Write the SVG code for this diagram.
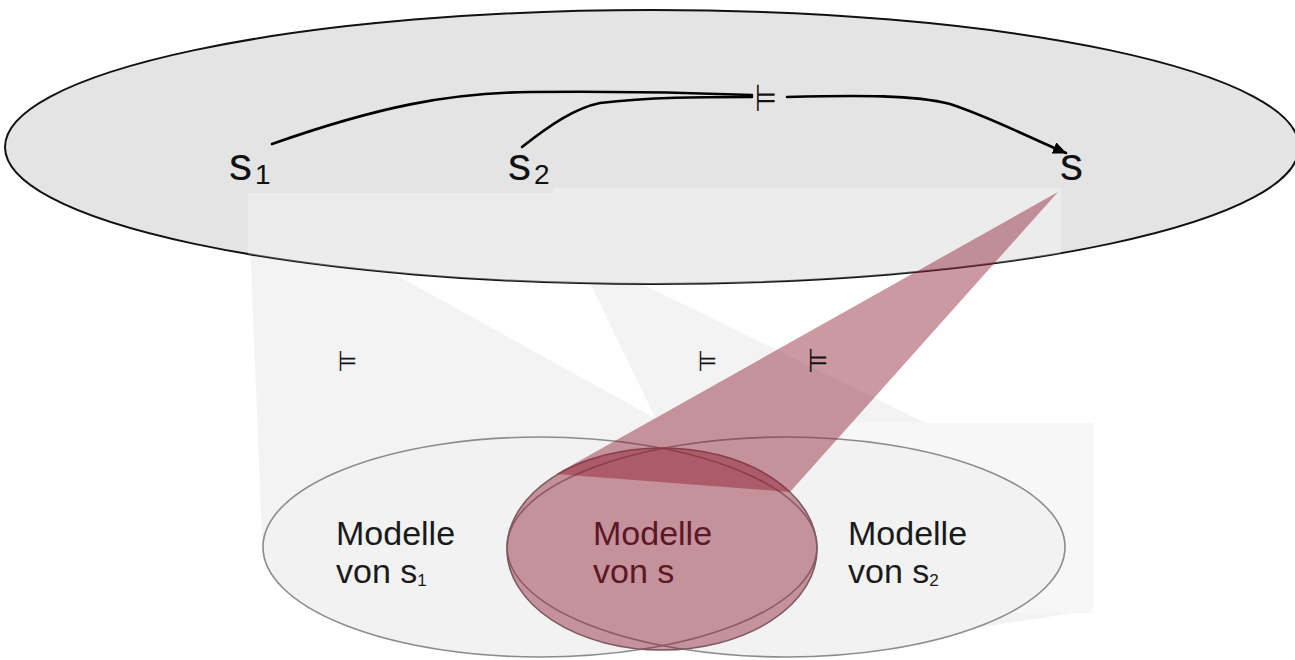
<svg xmlns="http://www.w3.org/2000/svg" width="1295" height="660" viewBox="0 0 1295 660">
<defs>
<style>
.var{font-family:"Liberation Sans",Arial,sans-serif;fill:#111}
.big{font-size:46px}
.sub{font-size:28px}
.ent{font-family:"DejaVu Sans",sans-serif;fill:#111}
.lab{font-family:"Liberation Sans",Arial,sans-serif;font-size:34px;fill:#1a1a1a}
.labr{fill:#5a1826}
.subs{font-size:17px}
.conn{fill:none;stroke:#000;stroke-width:2.6;stroke-linecap:round}
.wedge{fill:#f3f3f3}
.modelfill{fill:#f2f2f2}
.modelline{fill:none;stroke:#8c8c8c;stroke-width:1.6}
.red{fill:#8f1a2e;fill-opacity:0.45}
</style>
<marker id="arr" viewBox="0 0 14 12" markerWidth="14" markerHeight="12" refX="13" refY="6" orient="auto" markerUnits="userSpaceOnUse">
<path d="M0,0 L14,6 L0,12 z" fill="#000"/>
</marker>
<clipPath id="bigclip"><ellipse cx="652" cy="147" rx="647" ry="137"/></clipPath>
</defs>
<rect width="1295" height="660" fill="#fff"/>
<g id="projections">
<polygon class="wedge" points="248,193 660,421 720,470 540,560 263,560"/>
<polygon class="wedge" points="553,188 640,283 1063,490 1093,500 1093,610 786,657 690,520 653,413 590,283"/>
<rect x="843" y="423" width="250" height="190" fill="#f7f7f7"/>
</g>
<g id="universe">
<ellipse cx="652" cy="147" rx="647" ry="137" fill="#e4e4e4" stroke="#111" stroke-width="2"/>
<g clip-path="url(#bigclip)" fill="#fff" fill-opacity="0.3">
<rect x="248" y="193" width="305" height="110"/>
<rect x="553" y="188" width="508" height="110"/>
</g>
</g>
<g id="models-s1">
<ellipse class="modelfill" cx="540" cy="547" rx="277" ry="110"/>
</g>
<g id="models-s2">
<ellipse class="modelfill" cx="786" cy="547" rx="279" ry="110"/>
<ellipse class="modelline" cx="540" cy="547" rx="277" ry="110"/>
<ellipse class="modelline" cx="786" cy="547" rx="279" ry="110"/>
</g>
<g id="models-s">
<ellipse class="red" cx="662" cy="549" rx="155" ry="101" stroke="#7d5a61" stroke-width="1.6"/>
<polygon class="red" points="1058,192 790,492 556,474"/>
</g>
<g id="connectors">
<path class="conn" d="M272,144 C380,106 450,93 530,92 C620,91 700,93 752,95"/>
<path class="conn" d="M522,147 C550,125 575,108 600,103 C650,97 700,97 752,97"/>
<path class="conn" d="M787,97 C860,95 915,95 950,104 C990,117 1030,138 1066,153" marker-end="url(#arr)"/>
</g>
<g id="node-s1">
<text class="var big" x="229" y="180">s</text><text class="var sub" x="255" y="184">1</text>
</g>
<g id="node-s2">
<text class="var big" x="508" y="180">s</text><text class="var sub" x="534" y="184">2</text>
</g>
<g id="node-s">
<text class="var big" x="1060" y="180">s</text>
</g>
<g id="entail-labels">
<text class="ent" font-size="25" transform="translate(755,111) scale(1,1.5)">⊨</text>
<text class="ent" font-size="22" transform="translate(338,371) scale(1,1.3)">⊨</text>
<text class="ent" font-size="22" transform="translate(698,371) scale(1,1.3)">⊨</text>
<text class="ent" font-size="23" transform="translate(808,372) scale(1,1.45)">⊨</text>
</g>
<g id="label-s1">
<text class="lab" x="336" y="545">Modelle</text>
<text class="lab" x="336" y="583">von s<tspan class="subs" dy="3">1</tspan></text>
</g>
<g id="label-s">
<text class="lab labr" x="593" y="545">Modelle</text>
<text class="lab labr" x="593" y="583">von s</text>
</g>
<g id="label-s2">
<text class="lab" x="848" y="545">Modelle</text>
<text class="lab" x="848" y="583">von s<tspan class="subs" dy="3">2</tspan></text>
</g>
</svg>
